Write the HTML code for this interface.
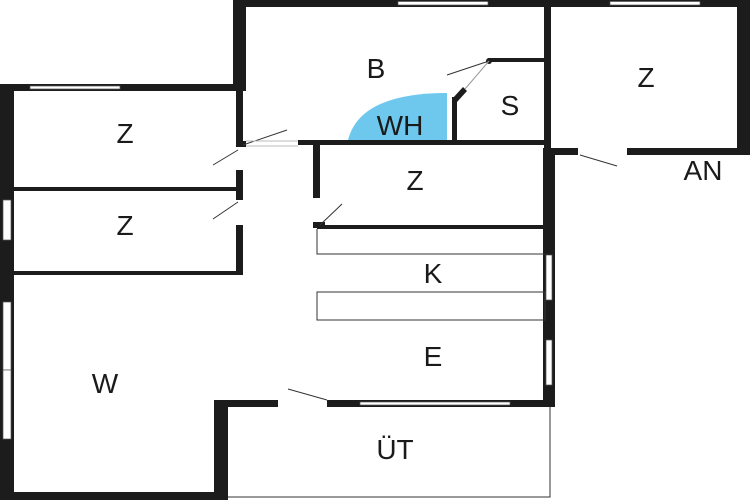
<!DOCTYPE html>
<html><head><meta charset="utf-8"><style>
html,body{margin:0;padding:0;background:#fff;}
svg{display:block;}
text{font-family:"Liberation Sans",sans-serif;font-size:28px;fill:#1a1a1a;text-anchor:middle;}
</style></head><body>
<svg width="750" height="500" viewBox="0 0 750 500" xmlns="http://www.w3.org/2000/svg">
<rect width="750" height="500" fill="#fff"/>
<path d="M348,140 Q360,93 447,93 L447,140 Z" fill="#6ec8ee"/>
<g fill="#1c1c1c">
<rect x="0" y="84" width="14" height="416"/>
<rect x="0" y="84" width="246" height="7"/>
<rect x="233" y="0" width="13" height="91"/>
<rect x="233" y="0" width="517" height="7"/>
<rect x="737" y="0" width="13" height="155"/>
<rect x="544" y="0" width="7" height="148"/>
<rect x="543" y="148" width="12" height="258"/>
<rect x="553" y="148" width="25" height="7"/>
<rect x="627" y="148" width="123" height="7"/>
<rect x="236" y="90" width="7" height="55"/>
<rect x="236" y="170" width="7" height="30"/>
<rect x="236" y="225" width="7" height="50"/>
<rect x="14" y="187" width="222" height="4"/>
<rect x="14" y="271" width="229" height="4"/>
<rect x="236" y="141" width="10" height="6"/>
<rect x="298" y="140" width="247" height="5"/>
<rect x="313" y="143" width="7" height="55"/>
<rect x="313" y="222" width="12" height="6"/>
<rect x="317" y="225" width="228" height="4"/>
<rect x="452" y="97" width="5" height="45"/>
<path d="M452,99 L463,87 L467,91 L457,102 Z"/>
<rect x="488" y="58" width="57" height="4"/>
<circle cx="489" cy="61" r="3"/>
<rect x="0" y="492" width="228" height="8"/>
<rect x="214" y="400" width="14" height="100"/>
<rect x="214" y="400" width="64" height="7"/>
<rect x="327" y="400" width="228" height="7"/>
</g>
<g fill="#fff" stroke="#555" stroke-width="0.7">
<rect x="30" y="86" width="90" height="3"/>
<rect x="398" y="1.5" width="90" height="3.5"/>
<rect x="610" y="1.5" width="90" height="3.5"/>
<rect x="3" y="200" width="8" height="40"/>
<rect x="3" y="302" width="8" height="68"/>
<rect x="3" y="370" width="8" height="69"/>
<rect x="546" y="255" width="6" height="45"/>
<rect x="546" y="340" width="6" height="45"/>
<rect x="360" y="402" width="150" height="3"/>
</g>
<g fill="none" stroke="#333" stroke-width="1">
<path d="M317,229 L317,254 L545,254"/>
<rect x="317" y="292" width="228" height="28"/>
<path d="M550,407 L550,497 L228,497"/>
<path d="M243,145 L287,130"/>
<path d="M238,150 L213,165"/>
<path d="M238,202 L213,219"/>
<path d="M320,225 L342,204"/>
<path d="M580,155 L617,166"/>
<path d="M288,389 L327,400"/>
<path d="M489,61 L447,75"/>
<path d="M489,61 L465,89" stroke="#999"/>
<path d="M246,141 L298,141 M246,146 L298,146" stroke="#bbb"/>
</g>
<text x="376" y="78">B</text>
<text x="125" y="143">Z</text>
<text x="125" y="235">Z</text>
<text x="415" y="190">Z</text>
<text x="646" y="87">Z</text>
<text x="510" y="115">S</text>
<text x="400" y="135">WH</text>
<text x="703" y="180">AN</text>
<text x="433" y="283">K</text>
<text x="433" y="366">E</text>
<text x="105" y="393">W</text>
<text x="395" y="459">ÜT</text>
</svg>
</body></html>
